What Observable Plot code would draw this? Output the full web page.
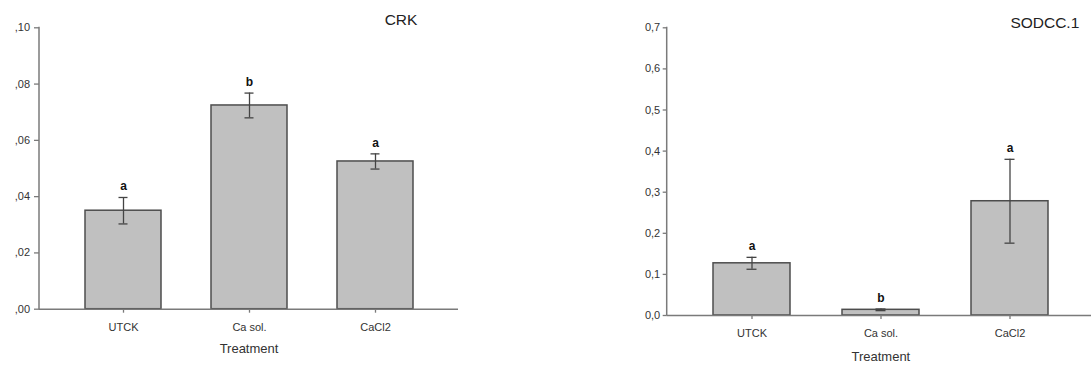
<!DOCTYPE html>
<html>
<head>
<meta charset="utf-8">
<script src="https://cdn.jsdelivr.net/npm/d3@7"></script>
<script src="https://cdn.jsdelivr.net/npm/@observablehq/plot@0.6"></script>
<style>
  html, body { margin: 0; padding: 0; background: #fff; }
  #wrap { position: relative; width: 1091px; height: 365px; overflow: hidden; font-family: "Liberation Sans", Arial, sans-serif; }
  #left { position: absolute; left: 0; top: 0; }
  #right { position: absolute; left: 545px; top: 0; }
</style>
</head>
<body>
<div id="wrap"><div id="left"></div><div id="right"></div></div>
<script>
const treatments = ["UTCK", "Ca sol.", "CaCl2"];

// CRK panel
const crkMean = [0.035, 0.0724, 0.0525];
const crkErr = [0.0047, 0.0044, 0.0027];
const crkLetters = ["a", "b", "a"];
const crkTicks = [0, 0.02, 0.04, 0.06, 0.08, 0.10];
const crkTickLabels = [",00", ",02", ",04", ",06", ",08", ",10"];

// SODCC.1 panel
const sodMean = [0.127, 0.0138, 0.278];
const sodErr = [0.0145, 0.002, 0.102];
const sodLetters = ["a", "b", "a"];
const sodTicks = [0, 0.1, 0.2, 0.3, 0.4, 0.5, 0.6, 0.7];
const sodTickLabels = ["0,0", "0,1", "0,2", "0,3", "0,4", "0,5", "0,6", "0,7"];

const FONT = "Liberation Sans, Arial, sans-serif";
const AXIS = "#7a7a7a";

function yAxisLine(index, scales, values, dimensions) {
  const {marginLeft, marginTop, height, marginBottom} = dimensions;
  const line = document.createElementNS("http://www.w3.org/2000/svg", "line");
  line.setAttribute("x1", marginLeft);
  line.setAttribute("x2", marginLeft);
  line.setAttribute("y1", marginTop - 0.5);
  line.setAttribute("y2", height - marginBottom + 0.5);
  line.setAttribute("stroke", AXIS);
  line.setAttribute("stroke-width", 1.5);
  return line;
}

function panel({title, means, errs, letters, ticks, tickLabels, yMax, width, mL, mR, mT, mB, yTickSize, yTickPad, titleDx, titleDy, xLabelDy, xTickPad}) {
  const rows = treatments.map((t, i) => ({t, m: means[i], e: errs[i], lo: means[i] - errs[i], hi: means[i] + errs[i], L: letters[i]}));
  const labelOf = new Map(ticks.map((v, i) => [v, tickLabels[i]]));
  return Plot.plot({
    width, height: 365,
    marginLeft: mL, marginRight: mR, marginTop: mT, marginBottom: mB,
    style: {fontFamily: FONT, color: "#333", background: "transparent", overflow: "visible"},
    x: {domain: treatments, paddingInner: 0.4, paddingOuter: 0.35, label: null},
    y: {domain: [0, yMax], label: null},
    marks: [
      Plot.axisY({ticks, tickFormat: d => labelOf.get(d), tickSize: yTickSize, tickPadding: yTickPad, fontSize: 11, stroke: AXIS, strokeWidth: 1.3, fill: "#333", label: null}),
      Plot.axisX({tickSize: 4, tickPadding: xTickPad, fontSize: 11, stroke: AXIS, strokeWidth: 1.3, fill: "#333", label: null}),
      yAxisLine,
      Plot.barY(rows, {x: "t", y: "m", fill: "#c0c0c0", stroke: "#4d4d4d", strokeWidth: 1.5}),
      Plot.ruleY([0], {stroke: AXIS, strokeWidth: 1.5}),
      Plot.ruleX(rows, {x: "t", y1: "lo", y2: "hi", stroke: "#444", strokeWidth: 1.3}),
      Plot.tickY(rows, {x: "t", y: "hi", stroke: "#444", strokeWidth: 1.3, insetLeft: 33.5, insetRight: 33.5}),
      Plot.tickY(rows, {x: "t", y: "lo", stroke: "#444", strokeWidth: 1.3, insetLeft: 33.5, insetRight: 33.5}),
      Plot.text(rows, {x: "t", y: "hi", text: "L", dy: -11, fontSize: 12, fontWeight: "bold", fill: "#111"}),
      Plot.text([title], {frameAnchor: "top", dx: titleDx, dy: titleDy, lineAnchor: "middle", fontSize: 15.5, fill: "#222"}),
      Plot.text(["Treatment"], {frameAnchor: "bottom", dy: xLabelDy, lineAnchor: "middle", fontSize: 13, fill: "#333"})
    ]
  });
}

document.getElementById("left").append(panel({
  title: "CRK", means: crkMean, errs: crkErr, letters: crkLetters,
  ticks: crkTicks, tickLabels: crkTickLabels, yMax: 0.10,
  width: 545, mL: 39, mR: 87, mT: 27.3, mB: 56.3,
  yTickSize: 5, yTickPad: 4.5, titleDx: 152, titleDy: -8, xLabelDy: 39.5, xTickPad: 10
}));

document.getElementById("right").append(panel({
  title: "SODCC.1", means: sodMean, errs: sodErr, letters: sodLetters,
  ticks: sodTicks, tickLabels: sodTickLabels, yMax: 0.7,
  width: 546, mL: 121.7, mR: -3, mT: 27.3, mB: 50,
  yTickSize: 4, yTickPad: 3, titleDx: 164, titleDy: -4.6, xLabelDy: 41, xTickPad: 10
}));
</script>
</body>
</html>
